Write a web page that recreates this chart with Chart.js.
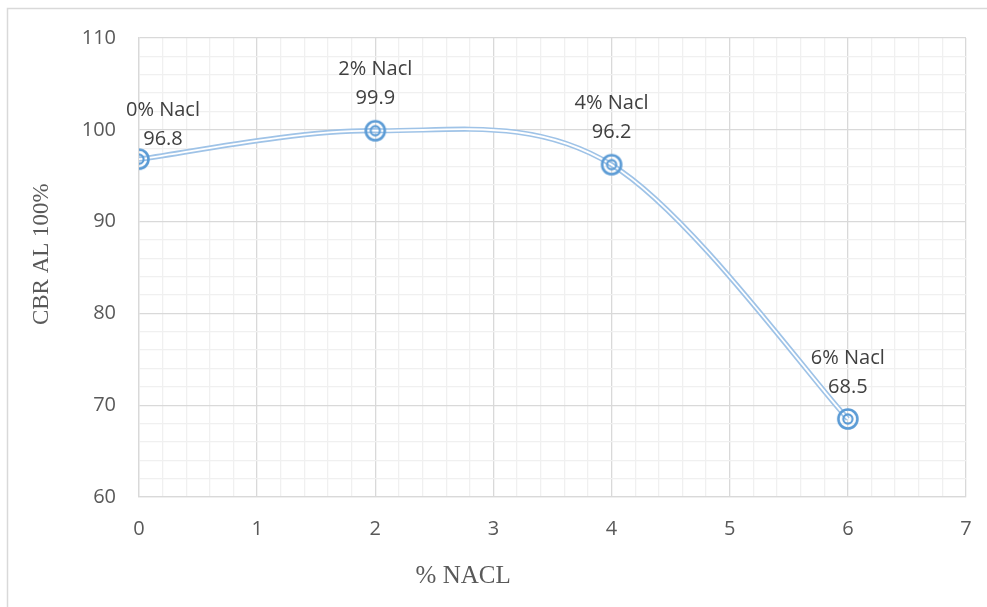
<!DOCTYPE html>
<html>
<head>
<meta charset="utf-8">
<script src="https://cdn.jsdelivr.net/npm/chart.js@4.4.1/dist/chart.umd.min.js"></script>
<style>
  html, body { margin: 0; padding: 0; background: #ffffff; }
  #wrap { position: relative; width: 987px; height: 607px; }
</style>
</head>
<body>
<div id="wrap"><canvas id="chart" width="987" height="607"></canvas></div>
<script>
// NaCl content (%) and CBR at 100% compaction
const naclPercent = [0, 2, 4, 6];
const cbrValues = [96.8, 99.9, 96.2, 68.5];
const pointNames = ['0% Nacl', '2% Nacl', '4% Nacl', '6% Nacl'];
const xTitle = '% NACL';
const yTitle = 'CBR AL 100%';

const lineBlue = '#9fc3e7';
const markerBlue = '#5b9bd5';
const majorGrid = '#d9d9d9';
const minorGrid = '#f0f0f0';
const tickColor = '#595959';

// double-ring marker sprite
function ringMarker() {
  const c = document.createElement('canvas');
  c.width = 28; c.height = 28;
  const g = c.getContext('2d');
  g.strokeStyle = markerBlue;
  g.lineWidth = 2.6;
  g.beginPath(); g.arc(14, 14, 9.5, 0, Math.PI * 2); g.stroke();
  g.lineWidth = 2.1;
  g.beginPath(); g.arc(14, 14, 4.6, 0, Math.PI * 2); g.stroke();
  return c;
}

const points = naclPercent.map((x, i) => ({ x: x, y: cbrValues[i] }));
const isWhole = v => Math.abs(v - Math.round(v)) < 1e-6;

// spreadsheet-style smoothing: each control point sits a sixth of the
// neighbour-to-neighbour span away from its point (ends reuse the end point)
const smoothCurve = {
  id: 'smoothCurve',
  beforeDatasetsDraw(chart) {
    chart.data.datasets.forEach((ds, di) => {
      const meta = chart.getDatasetMeta(di);
      const line = meta.dataset;
      if (!line) return;
      line.updateControlPoints(chart.chartArea, 'x');
      const pts = meta.data;
      const n = pts.length;
      for (let i = 0; i < n; i++) {
        const prev = pts[Math.max(i - 1, 0)];
        const next = pts[Math.min(i + 1, n - 1)];
        const dx = (next.x - prev.x) / 6;
        const dy = (next.y - prev.y) / 6;
        pts[i].cp1x = pts[i].x - dx;
        pts[i].cp1y = pts[i].y - dy;
        pts[i].cp2x = pts[i].x + dx;
        pts[i].cp2y = pts[i].y + dy;
      }
      line._pointsUpdated = true;
      line._path = undefined;
    });
  }
};

// outer frame, axis titles and point labels
const decorations = {
  id: 'decorations',
  beforeDraw(chart) {
    const ctx = chart.ctx;
    ctx.save();
    ctx.strokeStyle = '#d9d9d9';
    ctx.lineWidth = 1.5;
    ctx.beginPath();
    ctx.moveTo(7.5, chart.height);
    ctx.lineTo(7.5, 8.5);
    ctx.lineTo(chart.width, 8.5);
    ctx.stroke();
    ctx.restore();
  },
  afterDatasetsDraw(chart) {
    const ctx = chart.ctx;
    const area = chart.chartArea;
    ctx.save();
    // axis titles
    ctx.fillStyle = tickColor;
    ctx.font = '25px "Liberation Serif", "Times New Roman", serif';
    ctx.textAlign = 'center';
    ctx.textBaseline = 'alphabetic';
    ctx.fillText(xTitle, area.left + (area.right - area.left) * 0.392, 583);
    ctx.save();
    ctx.translate(48, area.top + (area.bottom - area.top) * 0.471);
    ctx.rotate(-Math.PI / 2);
    ctx.font = '23px "Liberation Serif", "Times New Roman", serif';
    ctx.fillText(yTitle, 0, 0);
    ctx.restore();

    // point labels
    const meta = chart.getDatasetMeta(0);
    ctx.font = '20px "Open Sans", sans-serif';
    ctx.fillStyle = '#404040';
    ctx.textBaseline = 'middle';
    meta.data.forEach((el, i) => {
      let dx = 0, dy = 0;
      if (i === 0) { dx = 24; dy = 12; }
      ctx.fillText(pointNames[i], el.x + dx, el.y - 61 + dy);
      ctx.fillText(String(cbrValues[i]), el.x + dx, el.y - 32 + dy);
    });
    ctx.restore();
  }
};

new Chart(document.getElementById('chart'), {
  type: 'line',
  data: {
    datasets: [
      {
        // white core of the double line, carries the markers
        data: points,
        order: 0,
        borderColor: '#ffffff',
        borderWidth: 1.8,
        tension: 0.4,
        pointStyle: ringMarker(),
        pointRadius: 11,
        pointHoverRadius: 11,
        fill: false
      },
      {
        data: points,
        order: 1,
        borderColor: lineBlue,
        borderWidth: 5.2,
        tension: 0.4,
        pointRadius: 0,
        pointHoverRadius: 0,
        fill: false
      }
    ]
  },
  options: {
    responsive: false,
    animation: false,
    events: [],
    layout: { padding: { left: 0, top: 38, right: 21, bottom: 0 } },
    plugins: {
      legend: { display: false },
      tooltip: { enabled: false },
      title: { display: false }
    },
    scales: {
      x: {
        type: 'linear',
        min: 0,
        max: 7,
        afterFit(scale) {
          scale.height = 110;
          scale.paddingLeft = 0;
          scale.paddingRight = 0;
        },
        ticks: {
          stepSize: 0.2,
          autoSkip: false,
          maxRotation: 0,
          padding: 20,
          color: tickColor,
          font: { family: '"Open Sans", sans-serif', size: 20 },
          callback: v => (isWhole(v) ? String(Math.round(v)) : '')
        },
        grid: {
          drawTicks: false,
          lineWidth: 1.3,
          color: c => (isWhole(c.tick.value) ? majorGrid : minorGrid)
        },
        border: { display: true, color: majorGrid, width: 1.3 }
      },
      y: {
        type: 'linear',
        min: 60,
        max: 110,
        afterFit(scale) { scale.width = 139; },
        ticks: {
          stepSize: 2,
          autoSkip: false,
          padding: 23,
          color: tickColor,
          font: { family: '"Open Sans", sans-serif', size: 20 },
          callback: v => (Math.round(v) % 10 === 0 ? String(Math.round(v)) : '')
        },
        grid: {
          drawTicks: false,
          lineWidth: 1.3,
          color: c => (Math.round(c.tick.value) % 10 === 0 ? majorGrid : minorGrid)
        },
        border: { display: true, color: majorGrid, width: 1.3 }
      }
    }
  },
  plugins: [smoothCurve, decorations]
});
</script>
</body>
</html>
